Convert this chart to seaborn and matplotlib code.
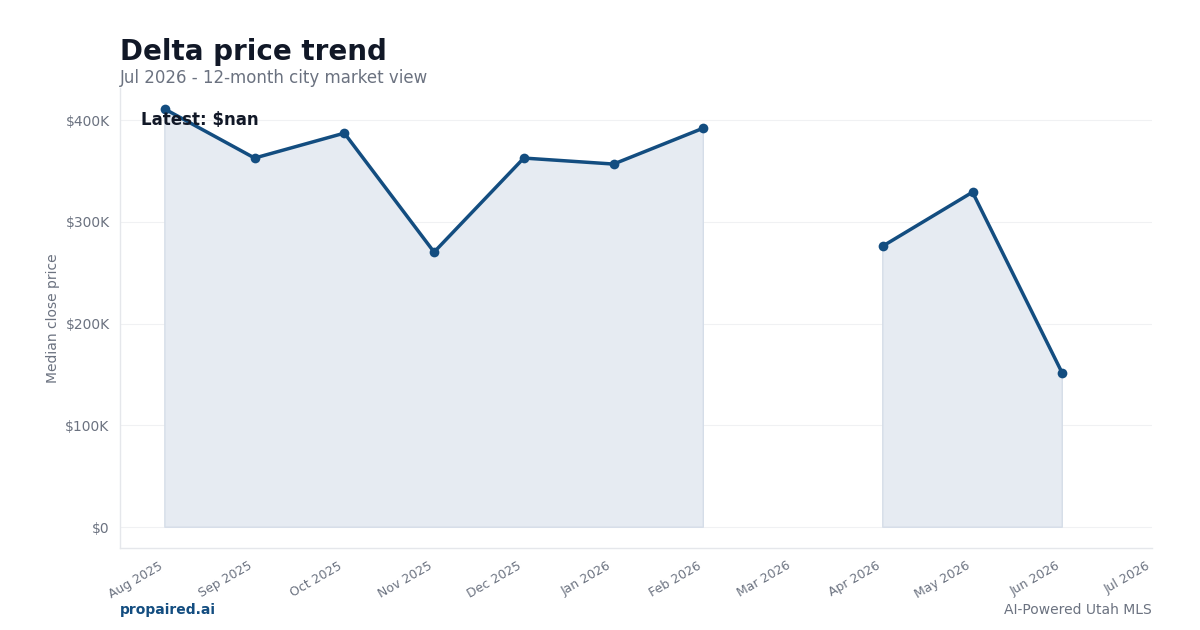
import numpy as np
import pandas as pd
import matplotlib
matplotlib.use("Agg")
import matplotlib.pyplot as plt
import seaborn as sns
from matplotlib.ticker import FuncFormatter

months = ["Aug 2025", "Sep 2025", "Oct 2025", "Nov 2025", "Dec 2025", "Jan 2026",
          "Feb 2026", "Mar 2026", "Apr 2026", "May 2026", "Jun 2026", "Jul 2026"]
median_price = [410800, 362700, 387200, 270300, 362700, 356800,
                392100, np.nan, 276200, 329200, 151400, np.nan]

df = pd.DataFrame({"month": months, "price": median_price})
df["pos"] = np.arange(len(months))
# segment id so the line breaks at missing months
df["seg"] = df["price"].isna().cumsum()

line_color = "#134d80"
fill_color = "#e6ebf2"
title_color = "#111827"
muted = "#6b7280"
spine_color = "#e5e7eb"

sns.set_theme(style="white")
plt.rcParams["font.family"] = ["DejaVu Sans"]

fig = plt.figure(figsize=(12, 6.3), dpi=100)
ax = fig.add_axes([0.1, 0.13, 0.86, 0.73])

# shaded area under the line (gaps where no data)
ax.fill_between(df["pos"], 0, df["price"], color=fill_color, edgecolor="#d5dde8", linewidth=1, zorder=1)
sns.lineplot(data=df.dropna(), x="pos", y="price", units="seg", estimator=None, ax=ax,
             color=line_color, linewidth=2.5, marker="o", markersize=7, markeredgewidth=0, zorder=3)

peak = np.nanmax(df["price"])
ax.set_ylim(-0.05 * peak, 1.05 * peak)
ax.set_xlim(-0.5, len(months) - 1)

ax.set_yticks([0, 100000, 200000, 300000, 400000])
ax.yaxis.set_major_formatter(FuncFormatter(lambda v, _: "$0" if v == 0 else f"${v/1000:.0f}K"))
ax.set_xticks(df["pos"])
ax.set_xticklabels(months, rotation=30, ha="right")

ax.tick_params(axis="x", colors=muted, labelsize=9, length=4, color=muted, width=0.8, pad=4)
ax.tick_params(axis="y", colors=muted, labelsize=10, length=4, color=muted, width=0.8)
ax.grid(axis="y", color="#f0f1f3", linewidth=0.8)
ax.set_axisbelow(True)

for side in ["top", "right"]:
    ax.spines[side].set_visible(False)
for side in ["left", "bottom"]:
    ax.spines[side].set_color(spine_color)
    ax.spines[side].set_linewidth(1)

ax.set_xlabel("")
ax.set_ylabel("Median close price", color=muted, fontsize=10, labelpad=4)

latest = df["price"].iloc[-1]
ax.text(0.02, 0.93, f"Latest: ${latest}", transform=ax.transAxes, fontsize=12,
        fontweight="bold", color=title_color, va="center")

fig.text(0.1, 0.917, "Delta price trend", fontsize=20, fontweight="bold", color=title_color, va="center")
fig.text(0.1, 0.876, "Jul 2026 - 12-month city market view", fontsize=12, color=muted, va="center")
fig.text(0.1, 0.032, "propaired.ai", fontsize=10, fontweight="bold", color=line_color, va="center")
fig.text(0.96, 0.032, "AI-Powered Utah MLS", fontsize=10, color=muted, va="center", ha="right")

fig.savefig("out.png", dpi=100)
